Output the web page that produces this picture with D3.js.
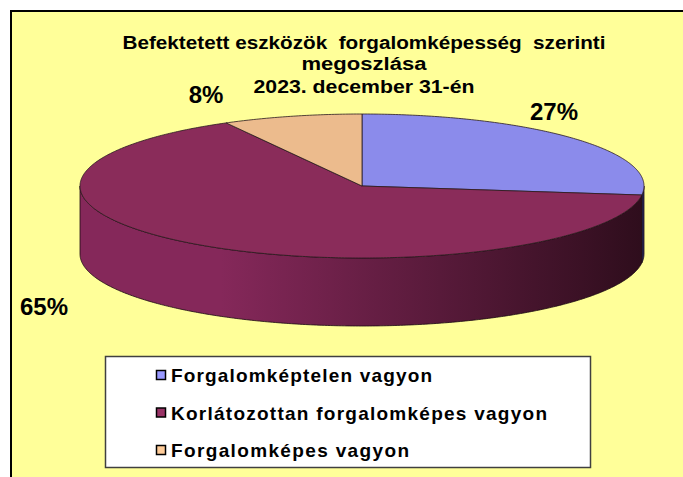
<!DOCTYPE html>
<html>
<head>
<meta charset="utf-8">
<script src="https://cdn.jsdelivr.net/npm/d3@7/dist/d3.min.js"></script>
<style>
  html, body { margin: 0; padding: 0; background: #ffffff; }
  svg { display: block; }
  text { font-family: "Liberation Sans", Arial, sans-serif; font-weight: bold; fill: #000; }
</style>
</head>
<body>
<svg id="chart" width="683" height="477"></svg>
<script>
// ---- data ----
const categories = ["Forgalomképtelen vagyon", "Korlátozottan forgalomképes vagyon", "Forgalomképes vagyon"];
const values = [27, 65, 8];
const percentLabels = ["27%", "65%", "8%"];
const titleLines = ["Befektetett eszközök  forgalomképesség  szerinti", "megoszlása", "2023. december 31-én"];
const topColors = ["#8b8beb", "#8a2c5a", "#ecbb8d"];
const sideLight = ["#6f6fc4", "#85285a", "#c9996f"];
const sideDark = ["#2a2a60", "#2e0d1c", "#5a4030"];
const legendColors = ["#9999ff", "#993366", "#ffcc99"];

// ---- layout ----
const W = 683, H = 477;
const svg = d3.select("#chart");

// frame
svg.append("rect").attr("x", 11).attr("y", 11).attr("width", W + 20).attr("height", H + 20)
  .attr("fill", "#ffff99").attr("stroke", "#000").attr("stroke-width", 2);

// title
const titleY = [49, 70, 93];
const titleW = [483, 125, 221];
titleLines.forEach((t, i) => {
  svg.append("text").attr("x", 364).attr("y", titleY[i]).attr("text-anchor", "middle")
    .style("font-size", "18px").style("white-space", "pre")
    .attr("textLength", titleW[i]).attr("lengthAdjust", "spacingAndGlyphs").text(t);
});

// pie geometry
const cx = 362, cy = 186, rx = 282, ry = 72, depth = 68;
const pie = d3.pie().sort(null).value(d => d).startAngle(0).endAngle(2 * Math.PI);
const arcs = pie(values);

const px = a => cx + rx * Math.sin(a);
const py = a => cy - ry * Math.cos(a);

function arcPoints(a0, a1, dy) {
  const n = Math.max(2, Math.ceil(Math.abs(a1 - a0) / 0.01));
  const pts = [];
  for (let i = 0; i <= n; i++) {
    const a = a0 + (a1 - a0) * i / n;
    pts.push([px(a), py(a) + dy]);
  }
  return pts;
}

// gradients for side walls
const defs = svg.append("defs");
arcs.forEach((d, i) => {
  const g = defs.append("linearGradient").attr("id", "side" + i)
    .attr("gradientUnits", "userSpaceOnUse")
    .attr("x1", cx - rx).attr("x2", cx + rx).attr("y1", 0).attr("y2", 0);
  g.append("stop").attr("offset", "0%").attr("stop-color", sideLight[i]);
  g.append("stop").attr("offset", "25%").attr("stop-color", sideLight[i]);
  g.append("stop").attr("offset", "100%").attr("stop-color", sideDark[i]);
});

const line = d3.line();

// side walls (front half: angles PI/2 .. 3PI/2)
arcs.forEach((d, i) => {
  const a0 = Math.max(d.startAngle, Math.PI / 2);
  const a1 = Math.min(d.endAngle, 3 * Math.PI / 2);
  if (a1 <= a0) return;
  const top = arcPoints(a0, a1, 0);
  const bot = arcPoints(a1, a0, depth);
  svg.append("path").attr("d", line(top.concat(bot)) + "Z")
    .attr("fill", `url(#side${i})`).attr("stroke", "#1a0a10").attr("stroke-width", 0.8)
    .attr("stroke-linejoin", "round");
});

// top faces
arcs.forEach((d, i) => {
  const pts = [[cx, cy]].concat(arcPoints(d.startAngle, d.endAngle, 0));
  svg.append("path").attr("d", line(pts) + "Z")
    .attr("fill", topColors[i]).attr("stroke", "#2a1a20").attr("stroke-width", 0.8)
    .attr("stroke-linejoin", "round");
});

// percentage labels
const labelPos = [[554, 120], [44, 315], [206, 103]];
arcs.forEach((d, i) => {
  svg.append("text").attr("x", labelPos[i][0]).attr("y", labelPos[i][1])
    .attr("text-anchor", "middle").style("font-size", "24px").text(percentLabels[i]);
});

// legend
const lg = svg.append("g");
lg.append("rect").attr("x", 105.5).attr("y", 356.5).attr("width", 485).attr("height", 111)
  .attr("fill", "#fff").attr("stroke", "#404040").attr("stroke-width", 1.5);
const legendY = d3.scalePoint().domain(categories).range([375, 450]);
const legendW = [261, 376, 238];
categories.forEach((c, i) => {
  const y = legendY(c);
  lg.append("rect").attr("x", 156.5).attr("y", y - 4.5).attr("width", 9).attr("height", 9)
    .attr("fill", legendColors[i]).attr("stroke", "#000").attr("stroke-width", 1.5);
  lg.append("text").attr("x", 171).attr("y", y + 7).style("font-size", "19px")
    .attr("textLength", legendW[i]).attr("lengthAdjust", "spacing").text(c);
});
</script>
</body>
</html>
